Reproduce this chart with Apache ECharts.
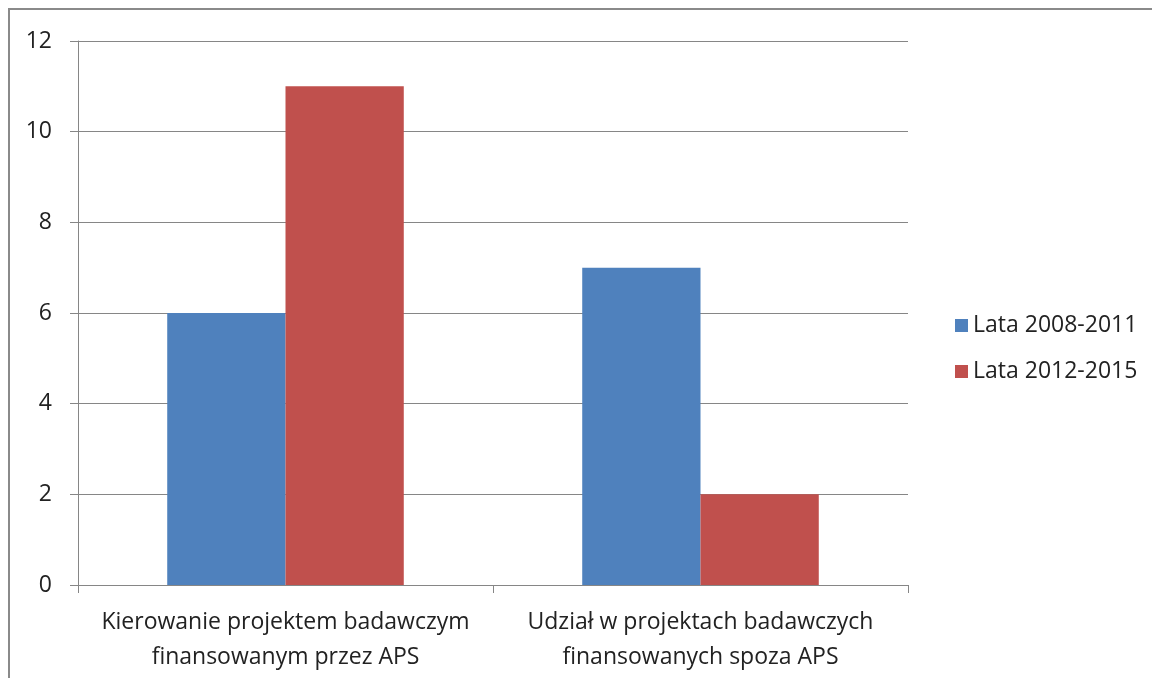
<!DOCTYPE html>
<html>
<head>
<meta charset="utf-8">
<script src="https://cdn.jsdelivr.net/npm/echarts@6/dist/echarts.min.js"></script>
<style>
  html, body { margin: 0; padding: 0; background: #fff; }
  #chart { width: 1152px; height: 678px; }
</style>
</head>
<body>
<div id="chart"></div>
<script>
// dane
var categories = ['Kierowanie projektem badawczym\nfinansowanym przez APS', 'Udział w projektach badawczych\nfinansowanych spoza APS'];
var seriesNames = ['Lata 2008-2011', 'Lata 2012-2015'];
var values2008 = [6, 7];
var values2012 = [11, 2];
var yTicks = { min: 0, max: 12, interval: 2 };

var chart = echarts.init(document.getElementById('chart'));
var font = '"Open Sans", Lato, sans-serif';

chart.setOption({
  animation: false,
  textStyle: { fontFamily: font },
  graphic: [{
    type: 'rect',
    shape: { x: 9, y: 9, width: 1300, height: 800 },
    style: { fill: 'none', stroke: '#8a8a8a', lineWidth: 2 }
  }],
  grid: { left: 78, top: 41, right: 244, bottom: 93 },
  legend: {
    orient: 'vertical',
    left: 950,
    top: 309,
    itemWidth: 13,
    itemHeight: 13,
    itemGap: 23,
    icon: 'rect',
    data: seriesNames,
    textStyle: { fontFamily: font, fontSize: 23, color: '#222', padding: [0, 0, 0, 0] }
  },
  xAxis: {
    type: 'category',
    data: categories,
    axisLine: { lineStyle: { color: '#868686', width: 1 } },
    axisTick: { show: true, length: 8, lineStyle: { color: '#868686' } },
    axisLabel: { fontFamily: font, fontSize: 23, color: '#222', lineHeight: 35, margin: 20, interval: 0 }
  },
  yAxis: {
    type: 'value',
    min: yTicks.min,
    max: yTicks.max,
    interval: yTicks.interval,
    axisLine: { show: true, lineStyle: { color: '#868686', width: 1 } },
    axisTick: { show: true, length: 8, lineStyle: { color: '#868686' } },
    splitLine: { lineStyle: { color: '#868686', width: 1 } },
    axisLabel: { fontFamily: font, fontSize: 23, color: '#222', margin: 26 }
  },
  series: [{
    name: seriesNames[0],
    type: 'bar',
    data: values2008,
    barGap: '0%',
    barCategoryGap: '43%',
    itemStyle: { color: '#4F81BD' }
  }, {
    name: seriesNames[1],
    type: 'bar',
    data: values2012,
    barGap: '0%',
    barCategoryGap: '43%',
    itemStyle: { color: '#C0504D' }
  }]
});
</script>
</body>
</html>
